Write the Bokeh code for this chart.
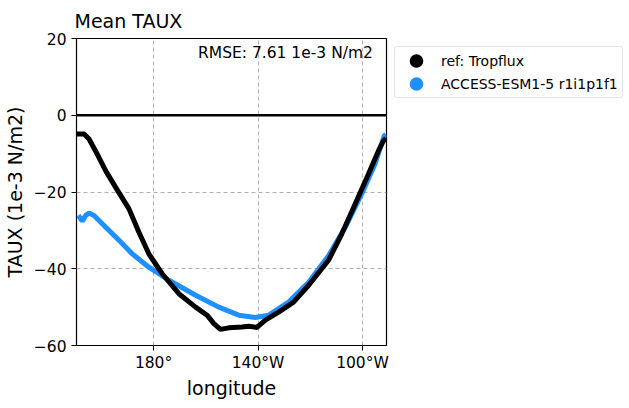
from bokeh.plotting import figure
from bokeh.models import Range1d, Legend, LegendItem, Label, FixedTicker, Span
from bokeh.embed import file_html
from bokeh.resources import INLINE

# Longitudes (degrees east) and mean zonal wind stress (1e-3 N/m2)
ref_lon = [150.6, 153.4, 155.3, 157.8, 161.7, 165.5, 170.6, 174.4, 178.2, 183.3,
           189.7, 196.1, 200.5, 203.1, 205.6, 208.8, 213.9, 216.4, 219.6, 222.8,
           227.9, 233.6, 239.4, 247.0, 252.1, 257.2, 262.3, 266.1, 268.0, 269.0]
ref_taux = [-4.9, -4.9, -6.2, -9.3, -14.5, -18.8, -24.4, -30.5, -36.1, -41.3,
            -46.5, -50.0, -52.1, -54.3, -55.8, -55.4, -55.2, -55.0, -55.3, -53.4,
            -51.3, -48.7, -44.3, -37.8, -30.9, -23.1, -15.3, -9.3, -6.7, -6.0]

mod_lon = [151.2, 152.7, 154.0, 155.3, 157.2, 161.7, 166.8, 171.8, 178.2, 185.9,
           196.1, 205.0, 212.6, 219.0, 224.1, 231.7, 239.4, 247.0, 253.4, 259.7,
           264.8, 268.3, 269.0]
mod_taux = [-26.1, -27.6, -26.1, -25.5, -26.1, -29.2, -32.6, -36.1, -39.6, -43.0,
            -46.9, -50.0, -52.1, -52.7, -52.1, -48.7, -43.5, -36.6, -29.2, -20.5,
            -12.7, -5.4, -5.0]

x_ticks = [180, 220, 260]
x_tick_labels = {180: "180°", 220: "140°W", 260: "100°W"}
y_ticks = [-60, -40, -20, 0, 20]

FONT = "DejaVu Sans"

p = figure(frame_width=310, frame_height=307, output_backend="svg", toolbar_location=None,
           x_range=Range1d(150.5, 269.2), y_range=Range1d(-60, 20),
           min_border_left=65, min_border_right=0, min_border_top=34, min_border_bottom=50)

p.title.text = "Mean TAUX"
p.title.text_font = FONT
p.title.text_font_size = "19px"
p.title.text_font_style = "normal"
p.title.text_color = "black"
p.title.align = "left"
p.title.offset = -2
p.title.standoff = 14

p.outline_line_color = "black"
p.outline_line_width = 1.2

p.xaxis.ticker = FixedTicker(ticks=x_ticks)
p.xaxis.major_label_overrides = x_tick_labels
p.yaxis.ticker = FixedTicker(ticks=y_ticks)
for ax in (p.xaxis, p.yaxis):
    ax.major_label_text_font = FONT
    ax.major_label_text_font_size = "15.5px"
    ax.major_label_text_color = "black"
    ax.axis_label_text_font = FONT
    ax.axis_label_text_font_size = "19px"
    ax.axis_label_text_font_style = "normal"
    ax.axis_label_text_color = "black"
    ax.minor_tick_line_color = None
    ax.major_tick_out = 5
    ax.major_tick_in = 0
    ax.major_tick_line_color = "black"
    ax.axis_line_color = None
p.xaxis.axis_label = "longitude"
p.yaxis.axis_label = "TAUX (1e-3 N/m2)"
p.xaxis.major_label_standoff = 3
p.xaxis.axis_label_standoff = 2

p.xgrid.ticker = FixedTicker(ticks=x_ticks)
p.ygrid.ticker = FixedTicker(ticks=y_ticks)
for g in (p.xgrid, p.ygrid):
    g.grid_line_color = "#b0b0b0"
    g.grid_line_dash = "4 3"
    g.grid_line_width = 1

p.add_layout(Span(location=0, dimension="width", line_color="black", line_width=2.5))

p.line(mod_lon, mod_taux, line_color="#1e90ff", line_width=5)
p.line(ref_lon, ref_taux, line_color="black", line_width=5)

# legend markers: one point each, far outside the visible range
r_ref = p.scatter([0], [0], marker="circle", fill_color="black", line_color="black", line_width=6)
r_mod = p.scatter([0], [0], marker="circle", fill_color="#1e90ff", line_color="#1e90ff", line_width=6)

legend = Legend(items=[LegendItem(label="ref: Tropflux", renderers=[r_ref]),
                       LegendItem(label="ACCESS-ESM1-5 r1i1p1f1", renderers=[r_mod])],
                location="top_left")
legend.label_text_font = FONT
legend.label_text_font_size = "14px"
legend.label_text_color = "black"
legend.glyph_width = 34
legend.glyph_height = 19
legend.label_height = 19
legend.label_standoff = 8
legend.spacing = 4
legend.padding = 4
legend.margin = 8
legend.border_line_color = "#cccccc"
legend.border_radius = 3
legend.background_fill_alpha = 1
p.add_layout(legend, "right")

p.add_layout(Label(x=264.0, y=14.0, text="RMSE: 7.61 1e-3 N/m2", text_align="right",
                   text_font=FONT, text_font_size="15.5px", text_color="black"))

open("out.html", "w").write(file_html(p, INLINE))
